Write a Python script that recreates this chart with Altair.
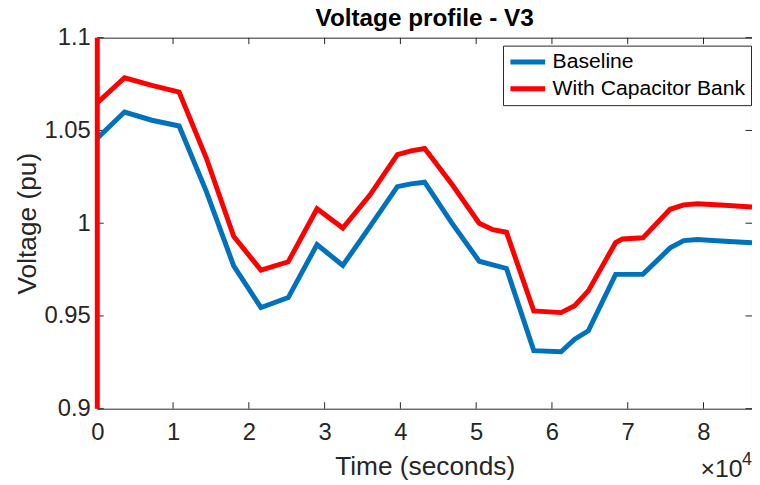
import altair as alt
import pandas as pd

# ---- data ----
time_s = [0, 3600, 7200, 10800, 14400, 18000, 21600, 25200, 29000, 32400,
          36000, 39600, 41400, 43200, 46800, 50400, 52200, 54000, 57600, 61200,
          63000, 64800, 68400, 69300, 72000, 75600, 77400, 79200, 82800, 86400]
baseline = [1.0458, 1.0599, 1.0555, 1.0524, 1.017, 0.977, 0.9545, 0.9599, 0.9885, 0.9772,
            0.9983, 1.0197, 1.0212, 1.0221, 1.0000, 0.9795, 0.9775, 0.9756, 0.9313, 0.9307,
            0.9375, 0.942, 0.9724, 0.9724, 0.9724, 0.9867, 0.9906, 0.9912, 0.9903, 0.9894]
capacitor = [1.0649, 1.0784, 1.0743, 1.0707, 1.035, 0.9929, 0.9747, 0.9792, 1.0078, 0.9974,
             1.0153, 1.037, 1.039, 1.0403, 1.021, 1.000, 0.9965, 0.9951, 0.9527, 0.9518,
             0.9555, 0.9635, 0.9895, 0.9915, 0.9921, 1.0075, 1.0099, 1.0105, 1.0097, 1.0087]
# initial transient of the capacitor-bank run at t = 0 (spans the whole y range)
capacitor_initial = [0.9, 1.1]

series_names = ["Baseline", "With Capacitor Bank"]
series_colors = ["#0072BD", "#FF0000"]

x_ticks = [0, 10000, 20000, 30000, 40000, 50000, 60000, 70000, 80000]
y_ticks = [0.9, 0.95, 1.0, 1.05, 1.1]

rows = []
for i, (t, v) in enumerate(zip(time_s, baseline)):
    rows.append({"t": t, "v": v, "s": series_names[0], "o": i + 2})
for i, v in enumerate(capacitor_initial):
    rows.append({"t": 0, "v": v, "s": series_names[1], "o": i})
for i, (t, v) in enumerate(zip(time_s, capacitor)):
    rows.append({"t": t, "v": v, "s": series_names[1], "o": i + 2})
df = pd.DataFrame(rows)

W, H = 660, 374
FONT = "Liberation Sans"
AX = "#262626"
TICK = 6.5

xscale = alt.Scale(domain=[0, 86400], nice=False, zero=False)
yscale = alt.Scale(domain=[0.9, 1.1], nice=False, zero=False)

lines = alt.Chart(df).mark_line(strokeWidth=5).encode(
    x=alt.X("t:Q", scale=xscale, axis=alt.Axis(
        title="Time (seconds)", values=x_ticks, labelExpr="datum.value / 10000",
        tickSize=0, domain=False, grid=False, labelPadding=12, titlePadding=9,
        labelFlush=False, labelOverlap=False,
        labelFontSize=24, titleFontSize=26.5, labelFont=FONT, titleFont=FONT,
        labelColor=AX, titleColor=AX, titleFontWeight="normal")),
    y=alt.Y("v:Q", scale=yscale, axis=alt.Axis(
        title="Voltage (pu)", values=y_ticks, format="~g",
        tickSize=0, domain=False, grid=False, labelPadding=7, titlePadding=3,
        labelFlush=False, labelOverlap=False,
        labelFontSize=24, titleFontSize=26.5, labelFont=FONT, titleFont=FONT,
        labelColor=AX, titleColor=AX, titleFontWeight="normal")),
    color=alt.Color("s:N", scale=alt.Scale(domain=series_names, range=series_colors),
                    legend=alt.Legend(title=None, orient="none", legendX=409, legendY=8,
                                      symbolType="stroke", symbolSize=1225,
                                      symbolStrokeWidth=5, labelFont=FONT,
                                      labelFontSize=21.3, labelColor="black",
                                      labelLimit=400, labelOffset=5,
                                      clipHeight=23, rowPadding=4,
                                      strokeColor=AX, fillColor="white",
                                      padding=5)),
    order=alt.Order("o:Q"),
)

xt = pd.DataFrame({"t": x_ticks})
yt = pd.DataFrame({"v": y_ticks})
bottom_ticks = alt.Chart(xt).mark_rule(color=AX, strokeWidth=1).encode(
    x=alt.X("t:Q", scale=xscale), y=alt.value(H), y2=alt.value(H - TICK))
top_ticks = alt.Chart(xt).mark_rule(color=AX, strokeWidth=1).encode(
    x=alt.X("t:Q", scale=xscale), y=alt.value(0), y2=alt.value(TICK))
left_ticks = alt.Chart(yt).mark_rule(color=AX, strokeWidth=1).encode(
    y=alt.Y("v:Q", scale=yscale), x=alt.value(0), x2=alt.value(TICK))
right_ticks = alt.Chart(yt).mark_rule(color=AX, strokeWidth=1).encode(
    y=alt.Y("v:Q", scale=yscale), x=alt.value(W - TICK), x2=alt.value(W))

exp_base = alt.Chart(pd.DataFrame({"s": ["\u00d710"]})).mark_text(
    align="left", baseline="alphabetic", font=FONT, fontSize=25, color=AX
).encode(text="s:N", x=alt.value(608), y=alt.value(443))
exp_pow = alt.Chart(pd.DataFrame({"s": ["4"]})).mark_text(
    align="left", baseline="alphabetic", font=FONT, fontSize=18, color=AX
).encode(text="s:N", x=alt.value(650), y=alt.value(431))

chart = alt.layer(
    bottom_ticks, top_ticks, left_ticks, right_ticks, lines, exp_base, exp_pow
).properties(
    width=W, height=H,
    title=alt.TitleParams("Voltage profile - V3", font=FONT, fontSize=24.5,
                          fontWeight="bold", color="black", offset=-5.5,
                          anchor="middle", frame="group"),
    autosize=alt.AutoSizeParams(type="none"),
    padding={"left": 90, "top": 28, "right": 0, "bottom": 76},
).configure_view(stroke=AX, strokeWidth=1)

chart.save("out.html", embed_options={"renderer": "svg", "actions": False})
